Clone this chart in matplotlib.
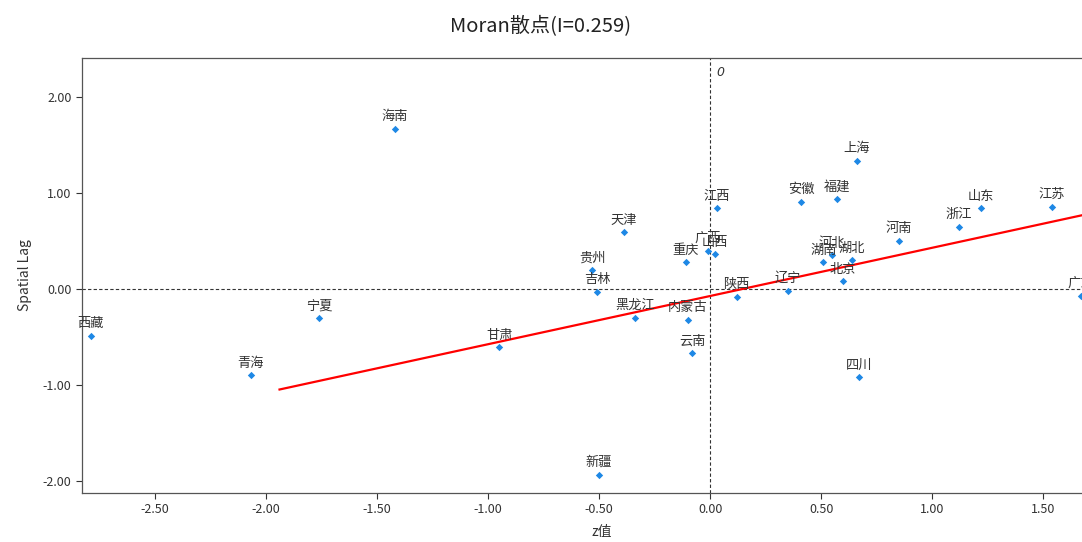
import matplotlib.pyplot as plt
import numpy as np

plt.rcParams['font.family'] = ['Noto Sans CJK SC', 'DejaVu Sans']

# provinces, standardized value (z) and spatial lag
provinces = ['海南', '西藏', '青海', '宁夏', '甘肃', '新疆', '贵州', '吉林', '天津', '黑龙江',
             '重庆', '内蒙古', '云南', '江西', '广西', '山西', '陕西', '辽宁', '安徽', '福建',
             '上海', '湖南', '河北', '湖北', '北京', '河南', '浙江', '山东', '江苏', '广东', '四川']
z_values = [-1.42, -2.79, -2.07, -1.76, -0.95, -0.50, -0.53, -0.51, -0.39, -0.34,
            -0.11, -0.10, -0.08, 0.03, -0.01, 0.02, 0.12, 0.35, 0.41, 0.57,
            0.66, 0.51, 0.55, 0.64, 0.60, 0.85, 1.12, 1.22, 1.54, 1.67, 0.67]
lag_values = [1.67, -0.49, -0.90, -0.30, -0.61, -1.94, 0.20, -0.03, 0.59, -0.30,
              0.28, -0.32, -0.67, 0.84, 0.40, 0.36, -0.08, -0.02, 0.91, 0.94,
              1.34, 0.28, 0.35, 0.30, 0.08, 0.50, 0.65, 0.84, 0.86, -0.07, -0.92]
moran_i = 0.259
fit_slope = 0.503
fit_intercept = -0.074
fit_x_start = -1.94

x_min, x_max = -2.83, 1.85
y_min, y_max = -2.13, 2.41
xticks = [-2.5, -2.0, -1.5, -1.0, -0.5, 0.0, 0.5, 1.0, 1.5]
yticks = [-2.0, -1.0, 0.0, 1.0, 2.0]

fig = plt.figure(figsize=(10.82, 5.42), dpi=100)
left, bottom, top = 82 / 1082, 1 - 493 / 542, 1 - 58 / 542
# axes reaches past the right edge of the image, like the original
right = (710 + x_max * 222) / 1082
ax = fig.add_axes([left, bottom, right - left, top - bottom])

ax.axhline(0, color='#333333', lw=0.8, ls=(0, (3, 2)), zorder=1)
ax.axvline(0, color='#333333', lw=0.8, ls=(0, (3, 2)), zorder=1)
ax.text(0.03, y_max - 0.08, '0', fontsize=9, style='italic', color='#333333',
        ha='left', va='top', family='DejaVu Sans')

fit_x = np.array([fit_x_start, x_max])
ax.plot(fit_x, fit_slope * fit_x + fit_intercept, color='red', lw=1.6, zorder=2)

ax.scatter(z_values, lag_values, marker='D', s=14, color='#1e88e5', zorder=3, linewidths=0)
for name, xv, yv in zip(provinces, z_values, lag_values):
    ax.annotate(name, (xv, yv), xytext=(0, 4), textcoords='offset points',
                ha='center', va='bottom', fontsize=9.5, color='#333333', zorder=4)

ax.set_xlim(x_min, x_max)
ax.set_ylim(y_min, y_max)
ax.set_xticks(xticks)
ax.set_yticks(yticks)
ax.set_xticklabels([f'{t:.2f}' for t in xticks])
ax.set_yticklabels([f'{t:.2f}' for t in yticks])
ax.tick_params(labelsize=9, colors='#333333', length=4, width=0.8)
for s in ax.spines.values():
    s.set_color('#555555')
    s.set_linewidth(0.9)

ax.set_xlabel('z值', fontsize=10, color='#333333', labelpad=6)
ax.set_ylabel('Spatial Lag', fontsize=10, color='#333333', labelpad=8)
fig.suptitle(f'Moran散点(I={moran_i})', fontsize=14.5, color='#222222', y=0.97)

fig.savefig('out.png', dpi=100)
